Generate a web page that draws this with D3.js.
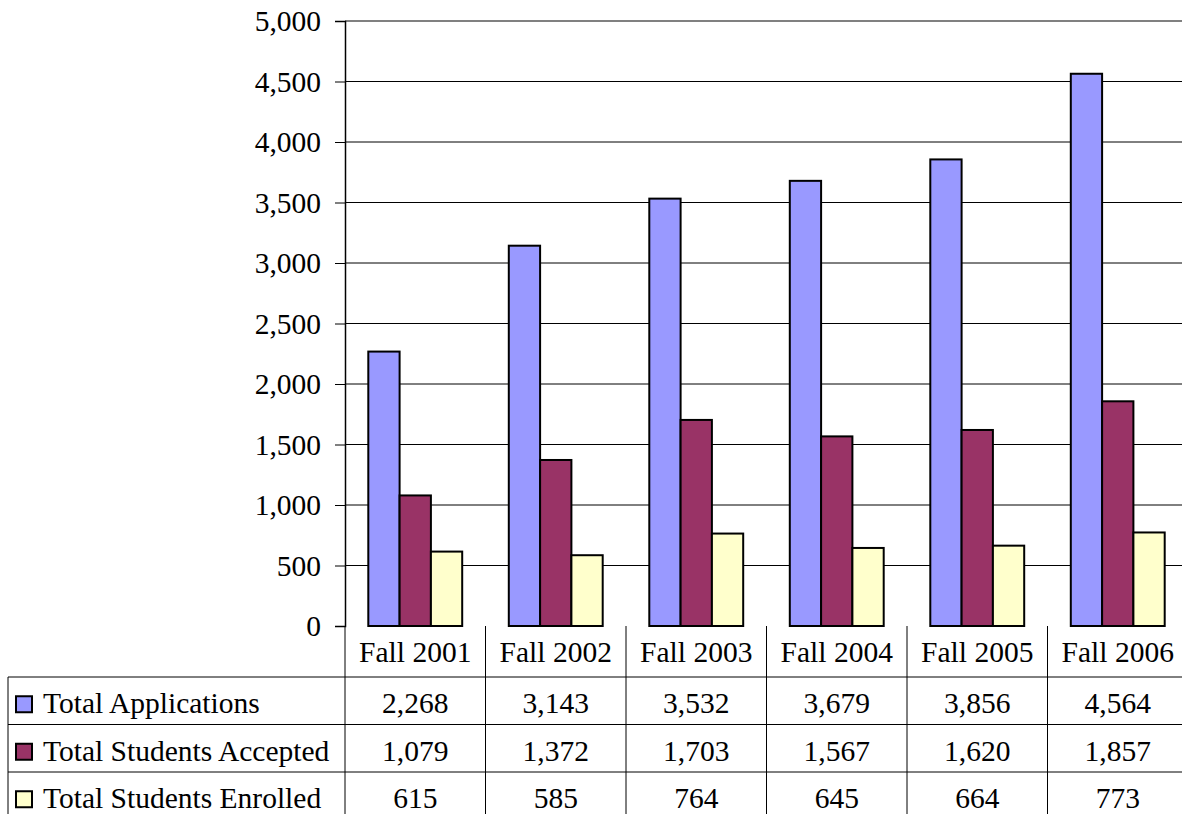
<!DOCTYPE html>
<html><head><meta charset="utf-8">
<script src="https://cdn.jsdelivr.net/npm/d3@7"></script>
</head><body style="margin:0">
<svg id="c" width="1182" height="814" style="display:block"></svg>
<script>
const categories = ["Fall 2001","Fall 2002","Fall 2003","Fall 2004","Fall 2005","Fall 2006"];
const seriesNames = ["Total Applications","Total Students Accepted","Total Students Enrolled"];
const applications = [2268,3143,3532,3679,3856,4564];
const accepted = [1079,1372,1703,1567,1620,1857];
const enrolled = [615,585,764,645,664,773];
const yTicks = [0,500,1000,1500,2000,2500,3000,3500,4000,4500,5000];
const colors = ["#9999ff","#993366","#ffffcc"];
const series = [applications, accepted, enrolled];

const FF = "'Liberation Serif', 'Times New Roman', serif";
const FS = "29.5px";
const svg = d3.select("#c");
const pL = 345, pR = 1188, pT = 21, pB = 626;
const x = d3.scaleBand().domain(categories).range([pL,pR]).paddingInner(0).paddingOuter(0);
const y = d3.scaleLinear().domain([0,5000]).range([pB,pT]);
const fmt = d3.format(",");
function styleText(sel){
  sel.attr("fill","#000").style("font-family",FF).style("font-size",FS);
}

svg.append("g").selectAll("line").data(yTicks.filter(d=>d>0)).join("line")
  .attr("x1",pL).attr("x2",pR).attr("y1",d=>y(d)).attr("y2",d=>y(d))
  .attr("stroke",d=>d===5000?"#808080":"#000").attr("stroke-width",d=>d===5000?2:1);

const ya = svg.append("g").attr("transform",`translate(${pL},0)`)
  .call(d3.axisLeft(y).tickValues(yTicks).tickFormat(fmt).tickSize(10).tickPadding(14));
ya.select(".domain").attr("stroke","#000").attr("stroke-width",1.5);
ya.selectAll("line").attr("stroke","#000");
ya.selectAll("text").call(styleText).attr("dy","0.33em");

const bw = 31.3;
const groupW = bw*3;
const xs = d3.scaleBand().domain(d3.range(3)).range([0,groupW]);
categories.forEach((c,i)=>{
  const gx = x(c) + (x.bandwidth()-groupW)/2;
  series.forEach((s,j)=>{
    svg.append("rect").attr("x",gx+xs(j)).attr("y",y(s[i])).attr("width",xs.bandwidth()).attr("height",pB-y(s[i]))
      .attr("fill",colors[j]).attr("stroke","#000").attr("stroke-width",2);
  });
});

const rowTop = 677, rowH = 47.5;
const tbl = svg.append("g").attr("stroke","#000").attr("stroke-width",1);
[pL, ...categories.slice(1).map(c=>x(c))].forEach(xx=>{
  tbl.append("line").attr("x1",xx).attr("x2",xx).attr("y1",pB).attr("y2",814);
});
tbl.append("line").attr("x1",8).attr("x2",8).attr("y1",rowTop).attr("y2",814);
d3.range(3).forEach(r=>{
  const yy = rowTop + r*rowH;
  tbl.append("line").attr("x1",8).attr("x2",1182).attr("y1",yy).attr("y2",yy);
});
svg.append("g").selectAll("text").data(categories).join("text")
  .attr("x",d=>x(d)+x.bandwidth()/2).attr("y",661.5).attr("text-anchor","middle").call(styleText).text(d=>d);
seriesNames.forEach((n,r)=>{
  const cy = rowTop + r*rowH + rowH/2;
  svg.append("rect").attr("x",16).attr("y",cy-4.5).attr("width",16).attr("height",16)
    .attr("fill",colors[r]).attr("stroke","#000").attr("stroke-width",2);
  svg.append("text").attr("x",43).attr("y",cy+12.5).call(styleText).text(n);
  svg.append("g").selectAll("text").data(series[r]).join("text")
    .attr("x",(d,i)=>x(categories[i])+x.bandwidth()/2).attr("y",cy+12.5).attr("text-anchor","middle")
    .call(styleText).text(d=>fmt(d));
});
</script>
</body></html>
